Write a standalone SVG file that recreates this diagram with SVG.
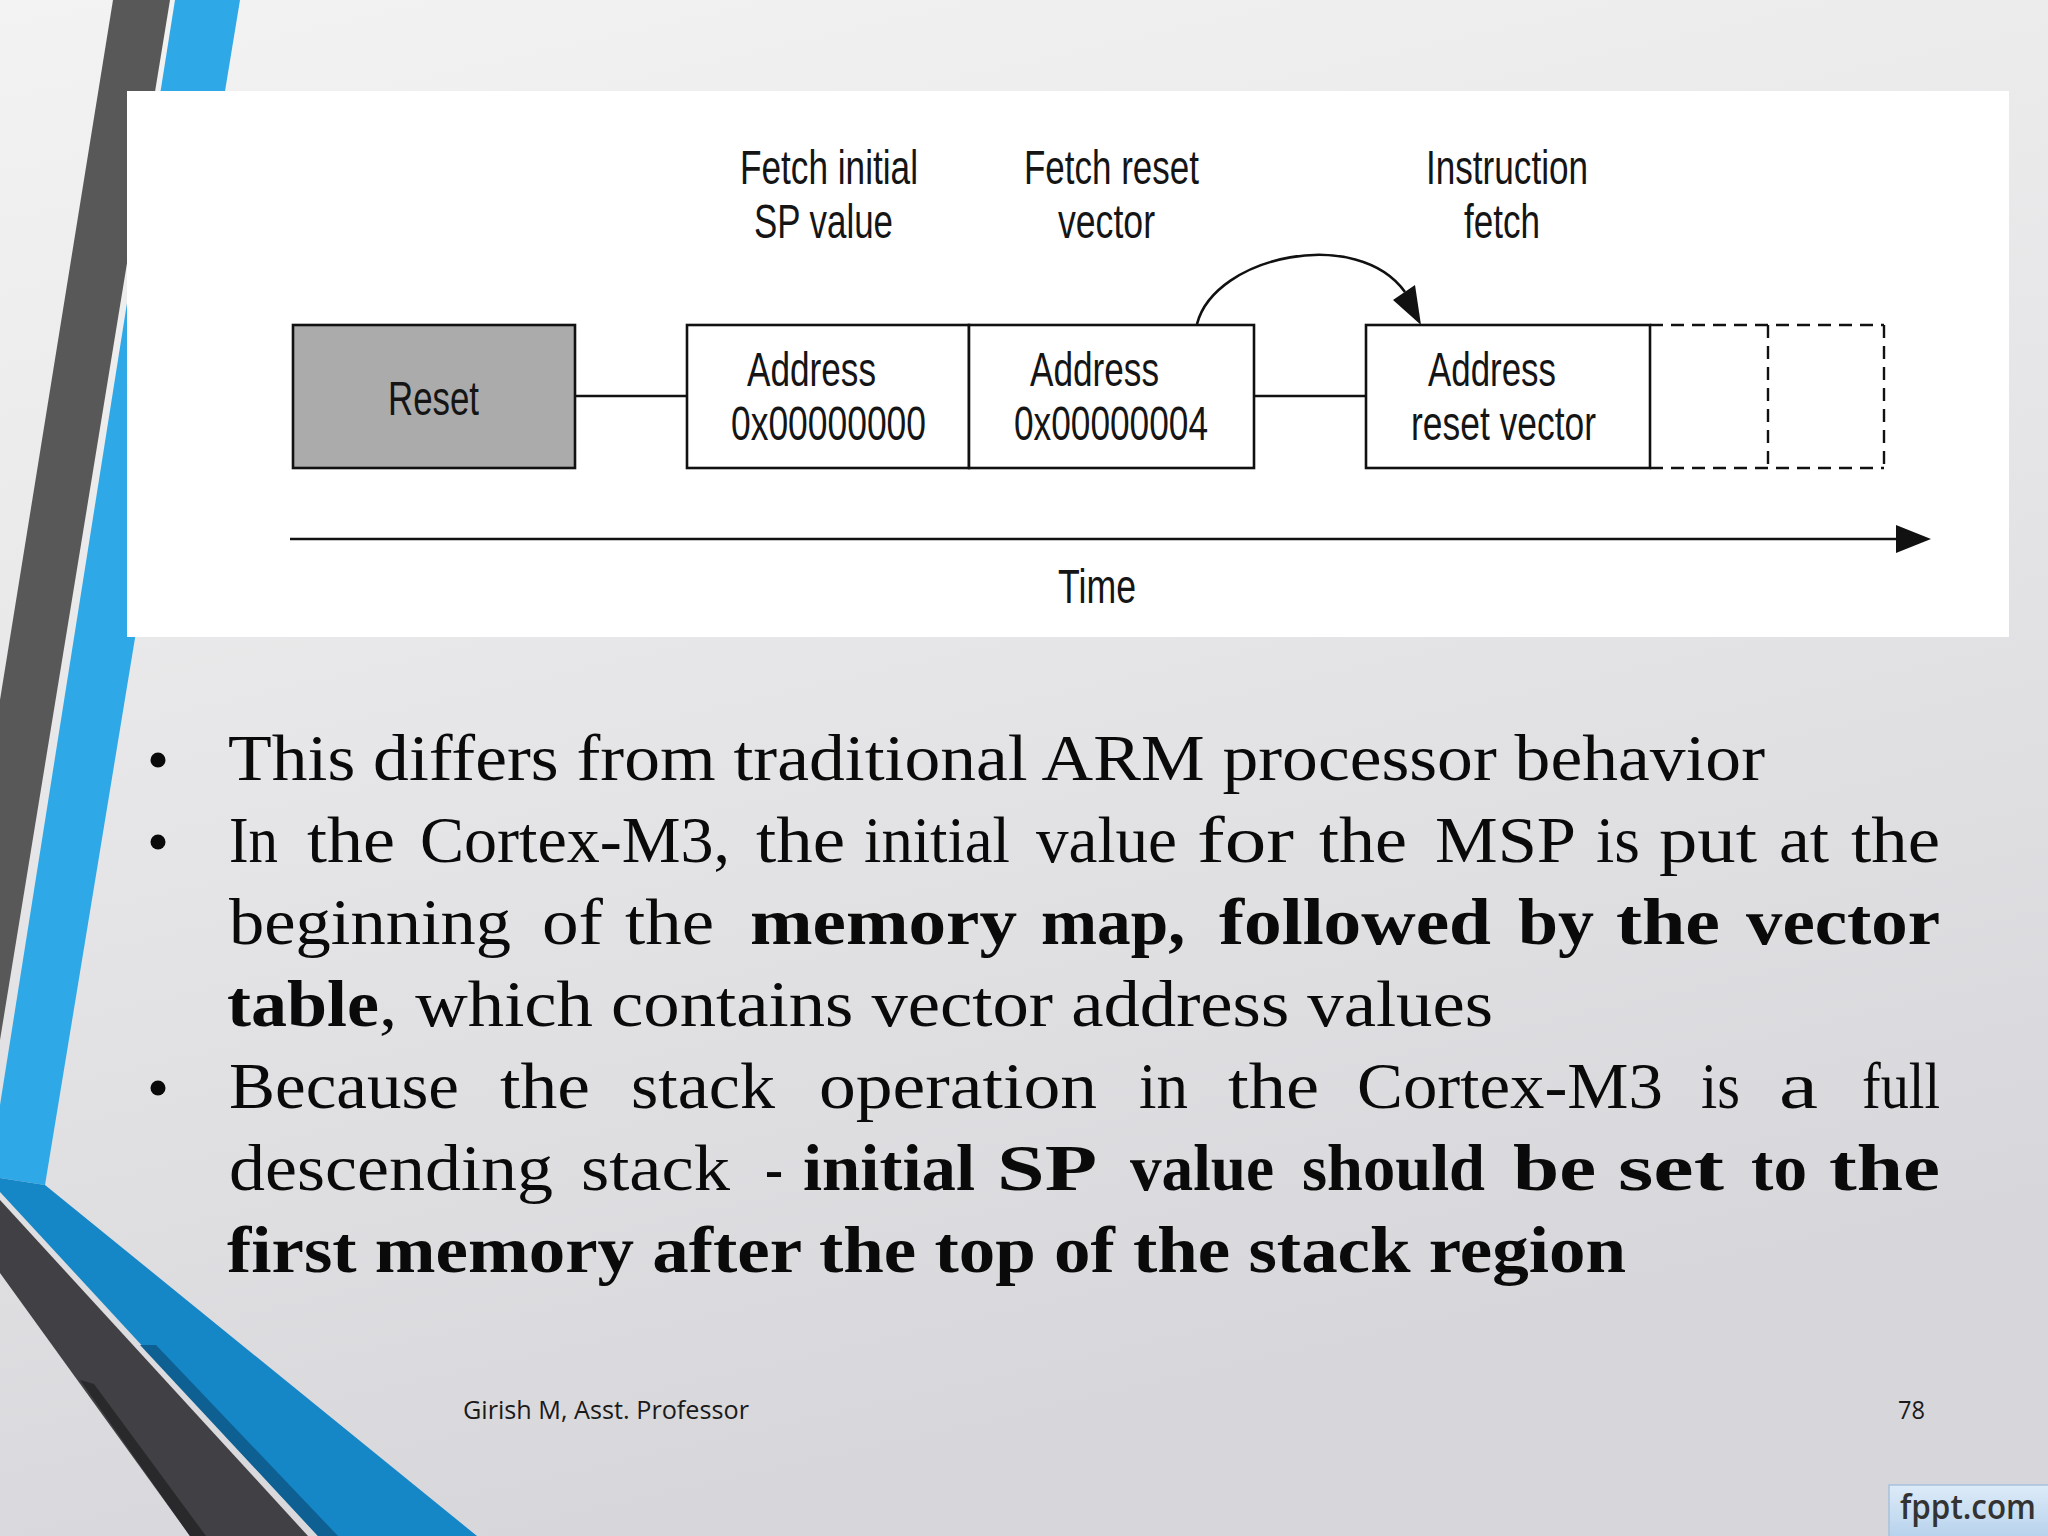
<svg xmlns="http://www.w3.org/2000/svg" width="2048" height="1536" viewBox="0 0 2048 1536">
<defs>
<linearGradient id="bg" x1="0" y1="0" x2="0.3" y2="1">
<stop offset="0" stop-color="#F3F3F3"/>
<stop offset="0.5" stop-color="#E6E6E8"/>
<stop offset="1" stop-color="#D7D6DA"/>
</linearGradient>
<linearGradient id="badge" x1="0" y1="0" x2="0" y2="1">
<stop offset="0" stop-color="#DDEBF8"/>
<stop offset="1" stop-color="#B5D1EC"/>
</linearGradient>
<style>
.dg{font-family:"Liberation Sans Narrow","Liberation Sans",Arial,sans-serif;font-size:48px;fill:#151515}
.box{fill:#FFFFFF;stroke:#111;stroke-width:2.6}
.dash{fill:none;stroke:#111;stroke-width:2.4;stroke-dasharray:13 8}
.ln{fill:none;stroke:#111;stroke-width:2.6}
.bt{font-family:"Liberation Serif","Times New Roman",serif;font-size:66px;fill:#0a0a0a}
.b{font-weight:bold}
.ft{font-family:"Open Sans","Liberation Sans",sans-serif;font-size:26px;fill:#1a1a1a}
</style>
</defs>

<!-- background -->
<rect x="0" y="0" width="2048" height="1536" fill="url(#bg)"/>
<g id="decor">
<polygon points="113,0 170,0 0,1040 0,700" fill="#585858"/>
<polygon points="175,0 240,0 45,1185 0,1178 0,1105" fill="#2EA8E6"/>
<polygon points="0,1178 45,1185 477,1536 318,1536 0,1192" fill="#1587C7"/>
<polygon points="140,1345 318,1536 338,1536 156,1345" fill="#0E5F92"/>
<polygon points="0,1200 308,1536 190,1536 0,1273" fill="#414044"/>
<polygon points="80,1380 190,1536 206,1536 94,1384" fill="#29282B"/>
</g>

<!-- white panel -->
<rect id="panel" x="127" y="91" width="1882" height="546" fill="#FFFFFF"/>

<!-- connectors -->
<g id="connectors">
<line class="ln" x1="575" y1="396" x2="687" y2="396"/>
<line class="ln" x1="1254" y1="396" x2="1366" y2="396"/>
<path class="ln" d="M1197,324 C1215,255 1358,226 1405,292"/>
<polygon points="1421,325 1393,300 1415,285" fill="#111"/>
<line class="ln" x1="290" y1="539" x2="1900" y2="539"/>
<polygon points="1931,539 1896,525 1896,553" fill="#111"/>
</g>

<g id="node-reset">
<rect x="293" y="325" width="282" height="143" fill="#ABABAB" stroke="#111" stroke-width="2.6"/>
<text class="dg" x="388" y="415" textLength="91" lengthAdjust="spacingAndGlyphs">Reset</text>
</g>
<g id="node-addr0">
<rect class="box" x="687" y="325" width="282" height="143"/>
<text class="dg" x="747" y="386" textLength="129" lengthAdjust="spacingAndGlyphs">Address</text>
<text class="dg" x="731" y="440" textLength="195" lengthAdjust="spacingAndGlyphs">0x00000000</text>
</g>
<g id="node-addr4">
<rect class="box" x="969" y="325" width="285" height="143"/>
<text class="dg" x="1030" y="386" textLength="129" lengthAdjust="spacingAndGlyphs">Address</text>
<text class="dg" x="1014" y="440" textLength="194" lengthAdjust="spacingAndGlyphs">0x00000004</text>
</g>
<g id="node-addr-reset">
<rect class="box" x="1366" y="325" width="284" height="143"/>
<text class="dg" x="1428" y="386" textLength="128" lengthAdjust="spacingAndGlyphs">Address</text>
<text class="dg" x="1411" y="440" textLength="185" lengthAdjust="spacingAndGlyphs">reset vector</text>
</g>
<g id="node-dashed">
<path class="dash" d="M1650,325 H1884 M1650,468 H1884 M1768,325 V468 M1884,325 V468"/>
</g>
<g id="labels">
<text class="dg" x="740" y="184" textLength="178" lengthAdjust="spacingAndGlyphs">Fetch initial</text>
<text class="dg" x="754" y="238" textLength="139" lengthAdjust="spacingAndGlyphs">SP value</text>
<text class="dg" x="1024" y="184" textLength="175" lengthAdjust="spacingAndGlyphs">Fetch reset</text>
<text class="dg" x="1058" y="238" textLength="97" lengthAdjust="spacingAndGlyphs">vector</text>
<text class="dg" x="1426" y="184" textLength="162" lengthAdjust="spacingAndGlyphs">Instruction</text>
<text class="dg" x="1464" y="238" textLength="76" lengthAdjust="spacingAndGlyphs">fetch</text>
<text class="dg" x="1058" y="603" textLength="78" lengthAdjust="spacingAndGlyphs">Time</text>
</g>

<!-- bullet text -->
<g id="bullets">
<circle cx="158" cy="760" r="7.5" fill="#0a0a0a"/>
<circle cx="158" cy="842" r="7.5" fill="#0a0a0a"/>
<circle cx="158" cy="1088" r="7.5" fill="#0a0a0a"/>
</g>
<g id="text" class="bt">
<text x="228" y="780" textLength="1537" lengthAdjust="spacingAndGlyphs">This differs from traditional ARM processor behavior</text>

<text x="229" y="862" textLength="49" lengthAdjust="spacingAndGlyphs">In</text>
<text x="307" y="862" textLength="88" lengthAdjust="spacingAndGlyphs">the</text>
<text x="420" y="862" textLength="310" lengthAdjust="spacingAndGlyphs">Cortex-M3,</text>
<text x="756" y="862" textLength="89" lengthAdjust="spacingAndGlyphs">the</text>
<text x="864" y="862" textLength="146" lengthAdjust="spacingAndGlyphs">initial</text>
<text x="1036" y="862" textLength="141" lengthAdjust="spacingAndGlyphs">value</text>
<text x="1197" y="862" textLength="97" lengthAdjust="spacingAndGlyphs">for</text>
<text x="1319" y="862" textLength="88" lengthAdjust="spacingAndGlyphs">the</text>
<text x="1435" y="862" textLength="141" lengthAdjust="spacingAndGlyphs">MSP</text>
<text x="1596" y="862" textLength="44" lengthAdjust="spacingAndGlyphs">is</text>
<text x="1659" y="862" textLength="98" lengthAdjust="spacingAndGlyphs">put</text>
<text x="1779" y="862" textLength="50" lengthAdjust="spacingAndGlyphs">at</text>
<text x="1851" y="862" textLength="89" lengthAdjust="spacingAndGlyphs">the</text>

<text x="229" y="944" textLength="282" lengthAdjust="spacingAndGlyphs">beginning</text>
<text x="542" y="944" textLength="61" lengthAdjust="spacingAndGlyphs">of</text>
<text x="625" y="944" textLength="89" lengthAdjust="spacingAndGlyphs">the</text>
<text class="b" x="750" y="944" textLength="267" lengthAdjust="spacingAndGlyphs">memory</text>
<text class="b" x="1041" y="944" textLength="144" lengthAdjust="spacingAndGlyphs">map,</text>
<text class="b" x="1219" y="944" textLength="272" lengthAdjust="spacingAndGlyphs">followed</text>
<text class="b" x="1518" y="944" textLength="76" lengthAdjust="spacingAndGlyphs">by</text>
<text class="b" x="1616" y="944" textLength="104" lengthAdjust="spacingAndGlyphs">the</text>
<text class="b" x="1746" y="944" textLength="194" lengthAdjust="spacingAndGlyphs">vector</text>

<text class="b" x="227" y="1026" textLength="152" lengthAdjust="spacingAndGlyphs">table</text>
<text x="379" y="1026" textLength="1114" lengthAdjust="spacingAndGlyphs">, which contains vector address values</text>

<text x="229" y="1108" textLength="230" lengthAdjust="spacingAndGlyphs">Because</text>
<text x="500" y="1108" textLength="90" lengthAdjust="spacingAndGlyphs">the</text>
<text x="631" y="1108" textLength="144" lengthAdjust="spacingAndGlyphs">stack</text>
<text x="819" y="1108" textLength="278" lengthAdjust="spacingAndGlyphs">operation</text>
<text x="1139" y="1108" textLength="49" lengthAdjust="spacingAndGlyphs">in</text>
<text x="1228" y="1108" textLength="91" lengthAdjust="spacingAndGlyphs">the</text>
<text x="1357" y="1108" textLength="306" lengthAdjust="spacingAndGlyphs">Cortex-M3</text>
<text x="1701" y="1108" textLength="39" lengthAdjust="spacingAndGlyphs">is</text>
<text x="1779" y="1108" textLength="39" lengthAdjust="spacingAndGlyphs">a</text>
<text x="1862" y="1108" textLength="78" lengthAdjust="spacingAndGlyphs">full</text>

<text x="229" y="1190" textLength="324" lengthAdjust="spacingAndGlyphs">descending</text>
<text x="581" y="1190" textLength="149" lengthAdjust="spacingAndGlyphs">stack</text>
<text x="765" y="1190" textLength="18" lengthAdjust="spacingAndGlyphs">-</text>
<text class="b" x="803" y="1190" textLength="172" lengthAdjust="spacingAndGlyphs">initial</text>
<text class="b" x="997" y="1190" textLength="100" lengthAdjust="spacingAndGlyphs">SP</text>
<text class="b" x="1130" y="1190" textLength="144" lengthAdjust="spacingAndGlyphs">value</text>
<text class="b" x="1302" y="1190" textLength="183" lengthAdjust="spacingAndGlyphs">should</text>
<text class="b" x="1513" y="1190" textLength="83" lengthAdjust="spacingAndGlyphs">be</text>
<text class="b" x="1618" y="1190" textLength="106" lengthAdjust="spacingAndGlyphs">set</text>
<text class="b" x="1751" y="1190" textLength="56" lengthAdjust="spacingAndGlyphs">to</text>
<text class="b" x="1829" y="1190" textLength="111" lengthAdjust="spacingAndGlyphs">the</text>

<text class="b" x="227" y="1272" textLength="1399" lengthAdjust="spacingAndGlyphs">first memory after the top of the stack region</text>
</g>

<!-- footer -->
<g id="footer">
<text class="ft" x="463" y="1419" textLength="286" lengthAdjust="spacingAndGlyphs">Girish M, Asst. Professor</text>
<text class="ft" x="1898" y="1419" textLength="27" lengthAdjust="spacingAndGlyphs">78</text>
</g>
<g id="badge">
<rect x="1889" y="1485" width="162" height="55" fill="url(#badge)" stroke="#A6C2DC" stroke-width="1.5"/>
<text x="1900" y="1519" font-family="'Open Sans','Liberation Sans',sans-serif" font-size="35" font-weight="600" fill="#333" textLength="136" lengthAdjust="spacingAndGlyphs">fppt.com</text>
</g>
</svg>
